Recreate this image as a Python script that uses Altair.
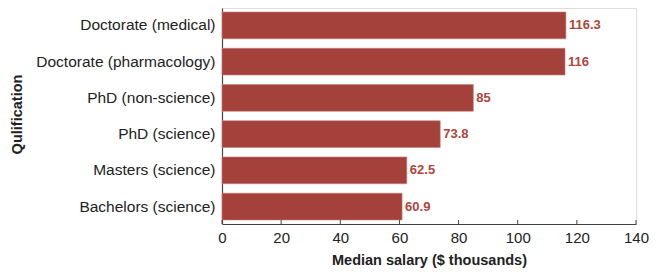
import altair as alt
import pandas as pd

categories = [
    "Doctorate (medical)",
    "Doctorate (pharmacology)",
    "PhD (non-science)",
    "PhD (science)",
    "Masters (science)",
    "Bachelors (science)",
]
salaries = [116.3, 116, 85, 73.8, 62.5, 60.9]
labels = ["116.3", "116", "85", "73.8", "62.5", "60.9"]
x_ticks = [0, 20, 40, 60, 80, 100, 120, 140]

df = pd.DataFrame({"qual": categories, "salary": salaries, "label": labels})
ticks_df = pd.DataFrame({"t": x_ticks})

W, H = 414, 216
FONT = "Liberation Sans"
BAR = "#A3413A"

x_scale = alt.Scale(domain=[0, 140], nice=False, zero=True)
y_scale = alt.Scale(paddingInner=0.26, paddingOuter=0.11)

bars = alt.Chart(df).mark_bar(color=BAR, stroke="#C7837D", strokeWidth=0.6).encode(
    x=alt.X(
        "salary:Q",
        scale=x_scale,
        axis=alt.Axis(
            values=x_ticks,
            title="Median salary ($ thousands)",
            grid=False,
            ticks=False,
            labelFlush=False,
            domainColor="#444444",
            domainWidth=1.2,
            labelFont=FONT,
            labelFontSize=15,
            labelColor="#222222",
            labelPadding=6,
            titleFont=FONT,
            titleFontSize=14.5,
            titleFontWeight="bold",
            titleColor="#222222",
            titleBaseline="middle",
            titleY=36,
        ),
    ),
    y=alt.Y(
        "qual:N",
        sort=categories,
        scale=y_scale,
        axis=alt.Axis(
            title="Qulification",
            ticks=False,
            domainColor="#444444",
            domainWidth=1.2,
            labelFont=FONT,
            labelFontSize=15.5,
            labelColor="#222222",
            labelPadding=7,
            titleFont=FONT,
            titleFontSize=14.5,
            titleFontWeight="bold",
            titleColor="#222222",
            titleX=-198,
            titleY=106,
        ),
    ),
)

text = alt.Chart(df).mark_text(
    align="left", baseline="middle", dx=3, font=FONT, fontSize=13,
    fontWeight="bold", color="#B0453C",
).encode(
    x=alt.X("salary:Q", scale=x_scale),
    y=alt.Y("qual:N", sort=categories, scale=y_scale),
    text="label:N",
)

tick_marks = alt.Chart(ticks_df).mark_rule(color="#444444", strokeWidth=1).encode(
    x=alt.X("t:Q", scale=x_scale),
    y=alt.value(H),
    y2=alt.value(H - 4),
)

chart = alt.layer(bars, text, tick_marks).properties(
    width=W,
    height=H,
    autosize=alt.AutoSizeParams(type="none"),
    padding={"left": 214, "top": 0, "right": 13, "bottom": 45},
).configure_view(stroke=None).configure(background="white")

chart.save("out.html", embed_options={"renderer": "svg", "actions": False})
